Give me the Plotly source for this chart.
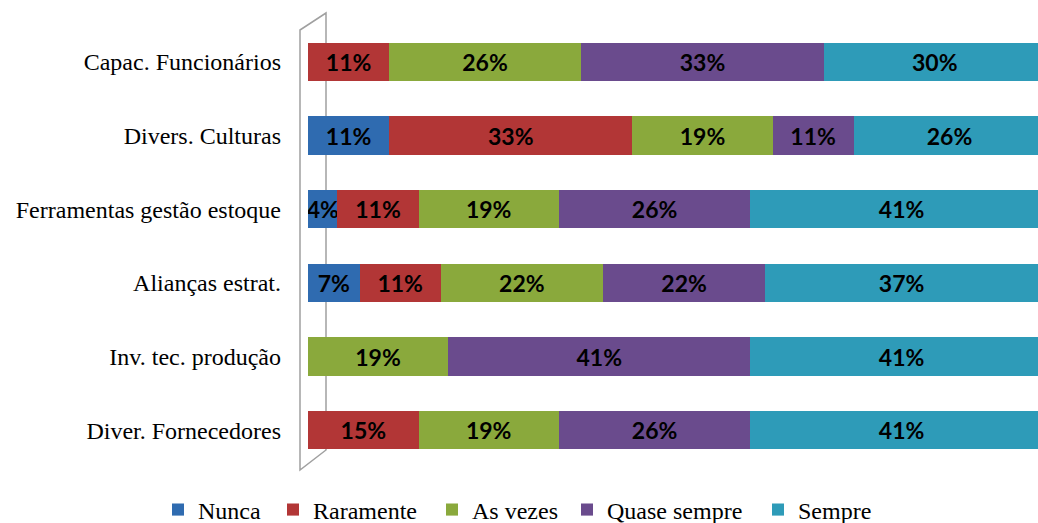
import plotly.graph_objects as go

categories = ["Capac. Funcionários", "Divers. Culturas", "Ferramentas gestão estoque",
              "Alianças estrat.", "Inv. tec. produção", "Diver. Fornecedores"]
series_names = ["Nunca", "Raramente", "As vezes", "Quase sempre", "Sempre"]
nunca = [0, 11, 4, 7, 0, 0]
raramente = [11, 33, 11, 11, 0, 15]
as_vezes = [26, 19, 19, 22, 19, 19]
quase_sempre = [33, 11, 26, 22, 41, 26]
sempre = [30, 26, 41, 37, 41, 41]
colors = ["#2F6BB0", "#B23636", "#8AA93C", "#6A4B8D", "#2E9BB8"]

series = [nunca, raramente, as_vezes, quase_sempre, sempre]

# legend text start positions (pixels from left of the page)
legend_text_px = [193, 308, 467, 602, 793]

W, H = 1038, 523
L, R, T, B = 308, 0, 25, 56
pw, ph = W - L - R, H - T - B

fig = go.Figure()
legend_layouts = {}
for i, (name, vals, col) in enumerate(zip(series_names, series, colors)):
    lg = "legend" if i == 0 else f"legend{i + 1}"
    fig.add_trace(go.Bar(
        y=categories, x=vals, name=name, orientation="h",
        marker=dict(color=col, line=dict(width=0)),
        width=0.52,
        text=[f"{v}%" if v > 0 else "" for v in vals],
        textposition="inside", insidetextanchor="middle", textangle=0,
        textfont=dict(family="Lato", size=23, color="black", weight="bold"),
        hoverinfo="skip",
        legend=lg, showlegend=True,
    ))
    legend_layouts[lg] = dict(
        orientation="h", xref="container", yref="container",
        x=(legend_text_px[i] - 35) / W, xanchor="left",
        y=1 - 510 / H, yanchor="middle",
        font=dict(family="Liberation Serif", size=24, color="black"),
        bgcolor="rgba(0,0,0,0)", borderwidth=0,
    )

def px(x):
    return (x - L) / pw

def py(y):
    return (H - B - y) / ph

wall = (f"M {px(300)} {py(30)} L {px(326)} {py(13)} L {px(326)} {py(450)} "
        f"L {px(300)} {py(470)} Z")

fig.update_layout(
    barmode="stack",
    width=W, height=H,
    showlegend=True,
    margin=dict(l=L, r=R, t=T, b=B),
    paper_bgcolor="white", plot_bgcolor="white",
    uniformtext=dict(minsize=23, mode="show"),
    xaxis=dict(range=[0, 99], visible=False),
    yaxis=dict(categoryorder="array", categoryarray=categories, autorange="reversed",
               tickfont=dict(family="Liberation Serif", size=24, color="black"),
               showgrid=False, showline=False, ticks="", ticklabelstandoff=26),
    shapes=[dict(type="path", path=wall, xref="paper", yref="paper",
                 line=dict(color="#A0A0A0", width=1.5), fillcolor="white", layer="below")],
    **legend_layouts,
)

fig.write_html("out.html", config={"displayModeBar": False},
               post_script="document.body.style.margin='0px';")
